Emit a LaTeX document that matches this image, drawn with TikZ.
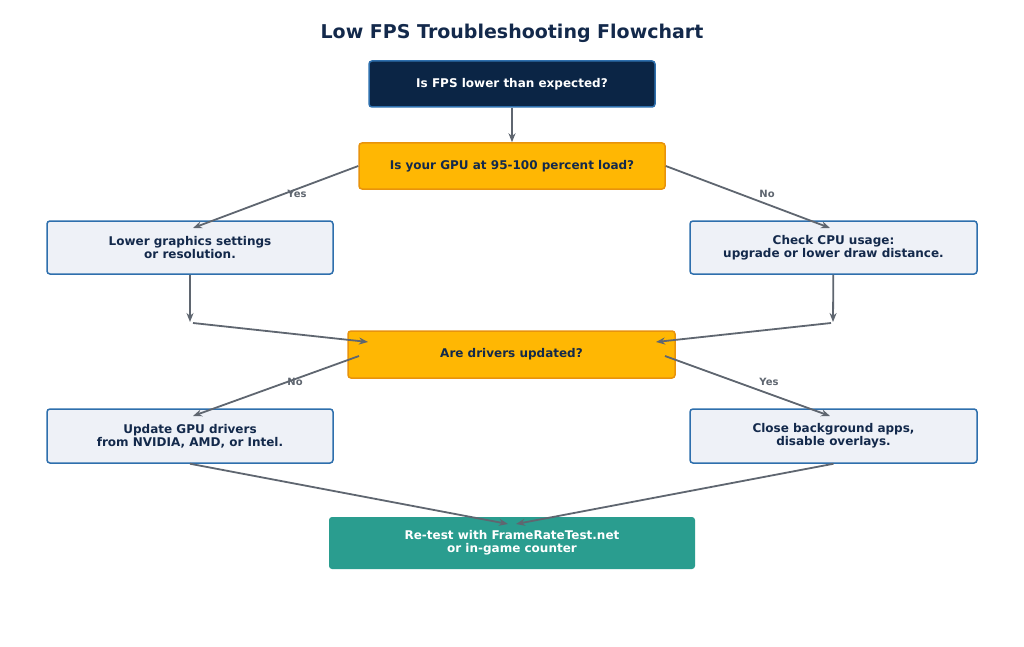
\documentclass[tikz,border=0pt]{standalone}
\usepackage{fontspec}
\setmainfont{DejaVu Sans}
\usetikzlibrary{arrows.meta}
\definecolor{navy}{HTML}{0B2545}
\definecolor{ttl}{HTML}{13294B}
\definecolor{bblue}{HTML}{2E6FAD}
\definecolor{org}{HTML}{FFB703}
\definecolor{orgb}{HTML}{E8930C}
\definecolor{pale}{HTML}{EEF1F7}
\definecolor{teal}{HTML}{2A9D8F}
\definecolor{arr}{HTML}{5F6670}
\begin{document}
\begin{tikzpicture}[x=1pt,y=-1pt,
  box/.style={draw=bblue,line width=1.5pt,rounded corners=3pt,fill=pale,text=ttl,font=\bfseries\fontsize{12}{13}\selectfont,align=center,inner sep=0},
  dec/.style={draw=orgb,line width=1.5pt,rounded corners=3pt,fill=org,text=ttl,font=\bfseries\fontsize{12}{13}\selectfont,align=center,inner sep=0},
  ar/.style={draw=arr,line width=1.8pt,-{Stealth[length=9pt,width=7pt]}},
  lbl/.style={text=arr,font=\bfseries\fontsize{10}{11}\selectfont}]
\useasboundingbox[fill=white] (0,0) rectangle (1024,647);
\node[text=ttl,font=\bfseries\fontsize{19}{21}\selectfont] (title) at (512,33) {Low FPS Troubleshooting Flowchart};
\node[box,fill=navy,text=white,minimum width=286pt,minimum height=46pt] (q1) at (512,84) {Is FPS lower than expected?};
\node[dec,minimum width=306pt,minimum height=46pt] (q2) at (512,166) {Is your GPU at 95-100 percent load?};
\node[box,minimum width=286pt,minimum height=53pt] (l1) at (190,247.5) {Lower graphics settings\\or resolution.};
\node[box,minimum width=287pt,minimum height=53pt] (r1) at (833.5,247.5) {Check CPU usage:\\upgrade or lower draw distance.};
\node[dec,minimum width=327pt,minimum height=47pt] (q3) at (511.5,354.5) {Are drivers updated?};
\node[box,minimum width=286pt,minimum height=54pt] (l2) at (190,436) {Update GPU drivers\\from NVIDIA, AMD, or Intel.};
\node[box,minimum width=287pt,minimum height=54pt] (r2) at (833.5,436) {Close background apps,\\disable overlays.};
\node[box,draw=none,fill=teal,text=white,minimum width=366pt,minimum height=52pt] (fin) at (512,543) {Re-test with FrameRateTest.net\\or in-game counter};
\coordinate (lm) at (190,322);
\coordinate (rm) at (833,322);
\draw[ar] (q1) -- (q2);
\draw[ar] (q2.west) -- (193,228);
\draw[ar] (q2.east) -- (830,228);
\node[lbl] (y1) at (297,194) {Yes};
\node[lbl] (n1) at (767,194) {No};
\draw[ar] (l1) -- (lm);
\draw[ar] (r1) -- (rm);
\draw[ar] (193,323) -- (368,342);
\draw[ar] (831,323) -- (656,342);
\draw[ar] (359,356) -- (193,416);
\draw[ar] (665,356) -- (830,416);
\node[lbl] (n2) at (295,382) {No};
\node[lbl] (y2) at (769,382) {Yes};
\draw[ar] (l2.south) -- (508,524);
\draw[ar] (r2.south) -- (516,524);
\end{tikzpicture}
\end{document}
